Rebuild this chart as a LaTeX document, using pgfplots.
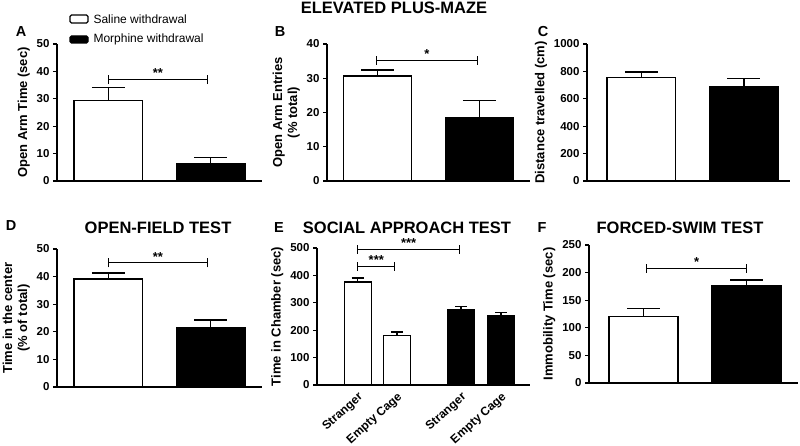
\documentclass[border=0pt]{standalone}
\usepackage{pgfplots}
\pgfplotsset{compat=1.18}
\usepackage{fontspec}
\setmainfont{Liberation Sans}
\newcommand{\sig}[5]{%
  \draw[line width=1pt] (axis cs:#1,#3) -- (axis cs:#2,#3);
  \draw[line width=1pt] ([yshift=-4.5pt]axis cs:#1,#3) -- ([yshift=4.5pt]axis cs:#1,#3);
  \draw[line width=1pt] ([yshift=-4.5pt]axis cs:#2,#3) -- ([yshift=4.5pt]axis cs:#2,#3);
  \node[anchor=south, inner sep=1.5pt, font=\fontsize{13}{14}\selectfont\bfseries] at (axis cs:#5,#3) {#4};
}
\begin{document}
\begin{tikzpicture}
\path[use as bounding box] (0pt,0pt) rectangle (800pt,445pt);
\pgfplotsset{
 panel/.style={
  scale only axis, axis lines=left, axis line style={-, line width=1.3pt},
  ymin=0, xtick=\empty, enlargelimits=false, clip=false,
  tick align=outside, major tick length=4pt,
  ytick style={line width=1.3pt, black},
  tick label style={font=\fontsize{11.5}{12}\selectfont\bfseries},
  /pgf/number format/assume math mode=true,
  /pgf/number format/1000 sep={},
  ylabel style={font=\fontsize{13}{15}\selectfont\bfseries, align=center},
 },
 wbar/.style={ybar, bar shift=0pt, fill=white, draw=black, line width=1.3pt,
   error bars/.cd, y dir=plus, y explicit, error mark=|,
   error bar style={line width=1.3pt, black},
   error mark options={line width=1.3pt, black, mark size=#1}},
 wbar/.default=16.5pt,
 kbar/.style={ybar, bar shift=0pt, fill=black, draw=black, line width=1.3pt,
   error bars/.cd, y dir=plus, y explicit, error mark=|,
   error bar style={line width=1.3pt, black},
   error mark options={line width=1.3pt, black, mark size=#1}},
 kbar/.default=16.5pt,
}
% ---------------- A
\begin{axis}[panel, at={(57pt,264pt)}, anchor=south west, width=205pt, height=137pt,
  xmin=0.5, xmax=2.5, ymax=50, ytick={0,10,...,50}, bar width=0.67,
  ylabel={Open Arm Time (sec)}]
\addplot[wbar] coordinates {(1,29.5) +- (0,4.6)};
\addplot[kbar] coordinates {(2,6.3) +- (0,2.3)};
\sig{1}{1.97}{37}{**}{1.485}
\end{axis}
% ---------------- B
\begin{axis}[panel, at={(327pt,264pt)}, anchor=south west, width=203pt, height=137pt,
  xmin=0.5, xmax=2.5, ymax=40, ytick={0,10,...,40}, bar width=0.67,
  ylabel={Open Arm Entries\\(\% total)}]
\addplot[wbar] coordinates {(1,30.7) +- (0,1.7)};
\addplot[kbar] coordinates {(2,18.5) +- (0,5.1)};
\sig{0.99}{1.98}{35.3}{*}{1.485}
\end{axis}
% ---------------- C
\begin{axis}[panel, at={(587pt,264pt)}, anchor=south west, width=203pt, height=137pt,
  xmin=0.47, xmax=2.45, ymax=1000, ytick={0,200,...,1000}, bar width=0.67,
  ylabel={Distance travelled (cm)}]
\addplot[wbar] coordinates {(1,757) +- (0,38)};
\addplot[kbar] coordinates {(2,688) +- (0,60)};
\end{axis}
% ---------------- D
\begin{axis}[panel, at={(57pt,58pt)}, anchor=south west, width=205pt, height=138pt,
  xmin=0.5, xmax=2.5, ymax=50, ytick={0,10,...,50}, bar width=0.67,
  ylabel={Time in the center\\(\% of total)}]
\addplot[wbar] coordinates {(1,39.1) +- (0,2.2)};
\addplot[kbar] coordinates {(2,21.4) +- (0,2.9)};
\sig{1}{1.97}{45}{**}{1.485}
\end{axis}
% ---------------- E
\begin{axis}[panel, at={(317pt,60pt)}, anchor=south west, width=213pt, height=137pt,
  xmin=-0.04, xmax=5.4, ymax=500, ytick={0,100,...,500}, bar width=0.69,
  xtick={1,2,3.64,4.66}, xticklabels={Stranger,Empty Cage,Stranger,Empty Cage},
  x tick style={draw=none},
  x tick label style={rotate=42, anchor=north east, inner sep=1.5pt, font=\fontsize{12}{13}\selectfont\bfseries},
  ylabel={Time in Chamber (sec)}]
\addplot[wbar=6pt] coordinates {(1,376) +- (0,14)};
\addplot[wbar=6pt] coordinates {(2,180) +- (0,13)};
\addplot[kbar=6pt] coordinates {(3.64,274) +- (0,12)};
\addplot[kbar=6pt] coordinates {(4.66,253) +- (0,12)};
\sig{1}{3.6}{495}{***}{2.3}
\sig{1}{1.95}{434}{***}{1.475}
\end{axis}
% ---------------- F
\begin{axis}[panel, at={(589pt,62pt)}, anchor=south west, width=209pt, height=138pt,
  xmin=0.47, xmax=2.5, ymax=250, ytick={0,50,...,250}, bar width=0.67,
  ylabel={Immobility Time (sec)}]
\addplot[wbar] coordinates {(1,120) +- (0,15)};
\addplot[kbar] coordinates {(2,176) +- (0,10.5)};
\sig{1.03}{2.0}{208}{*}{1.515}
\end{axis}
% ---------------- legend
\draw[line width=1.2pt, rounded corners=1.5pt, fill=white] (70pt,430pt) rectangle (88pt,422pt);
\node[anchor=west, font=\fontsize{12}{14}\selectfont] at (90pt,426pt) {Saline withdrawal};
\draw[line width=1.2pt, rounded corners=1.5pt, fill=black] (70pt,409pt) rectangle (88pt,402pt);
\node[anchor=west, font=\fontsize{12}{14}\selectfont] at (90pt,405.5pt) {Morphine withdrawal};
% ---------------- titles and letters
\node[font=\fontsize{16.5}{18}\selectfont\bfseries] at (394pt,437pt) {ELEVATED PLUS-MAZE};
\node[font=\fontsize{16.5}{18}\selectfont\bfseries] at (158pt,217pt) {OPEN-FIELD TEST};
\node[font=\fontsize{16.5}{18}\selectfont\bfseries] at (407pt,217pt) {SOCIAL APPROACH TEST};
\node[font=\fontsize{16.5}{18}\selectfont\bfseries] at (680pt,217pt) {FORCED-SWIM TEST};
\foreach \l/\x/\y in {A/21/413, B/280/413, C/543/413, D/11/219, E/279/217, F/542/217}
  \node[font=\fontsize{14.5}{16}\selectfont\bfseries] at (\x pt,\y pt) {\l};
\end{tikzpicture}
\end{document}
